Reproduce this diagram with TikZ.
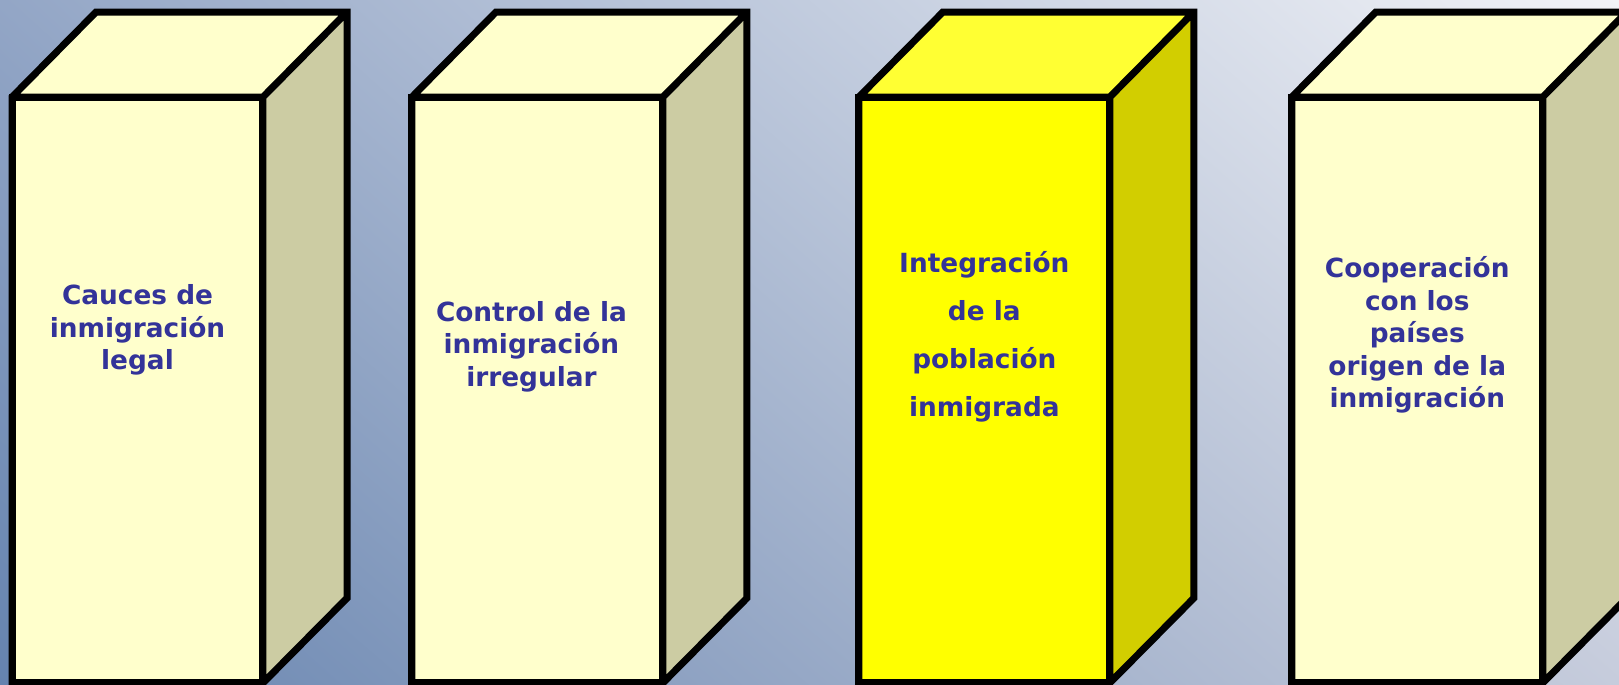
\documentclass[tikz,border=0pt]{standalone}
\usepackage{fontspec}
\setmainfont{DejaVu Sans}
\usetikzlibrary{positioning, shadings}
\definecolor{bgul}{HTML}{93A6C6}
\definecolor{bgur}{HTML}{F2F3F7}
\definecolor{bgll}{HTML}{6583AF}
\definecolor{bglr}{HTML}{C6CCDC}
\definecolor{paleface}{HTML}{FFFFCC}
\definecolor{paleside}{HTML}{CCCCA3}
\definecolor{goldface}{HTML}{FFFF00}
\definecolor{goldtop}{HTML}{FFFF33}
\definecolor{goldside}{HTML}{D2CE00}
\definecolor{pillarblue}{HTML}{333399}

\begin{document}
\begin{tikzpicture}[x=0.02cm, y=0.02cm, line width=4pt, line join=miter,
  pillar/.style={rectangle,draw,inner sep=0pt,outer sep=0pt,
    minimum width=5.02cm,minimum height=11.72cm},
  pillar text/.style={font=\bfseries\fontsize{15}{18.5}\selectfont,
    text=pillarblue,align=center}]

\useasboundingbox (0,0) rectangle (1619,685);
\clip (0,0) rectangle (1619,685);
\shade[upper left=bgul, upper right=bgur, lower left=bgll, lower right=bglr]
  (0,0) rectangle (1619,685);

\node[pillar, fill=paleface] (A) at (137.5,295) {};
\node[pillar, fill=paleface] (B) [right=2.98cm of A] {};
\node[pillar, fill=goldface] (C) [right=3.92cm of B] {};
\node[pillar, fill=paleface] (D) [right=3.64cm of C] {};

% tops and sides
\fill[paleface] (A.north west) -- ++(84,85) -- ++(251,0) -- (A.north east) -- cycle;
\fill[paleside] (A.north east) -- ++(84,85) -- ++(0,-586) -- (A.south east) -- cycle;
\fill[paleface] (B.north west) -- ++(84,85) -- ++(251,0) -- (B.north east) -- cycle;
\fill[paleside] (B.north east) -- ++(84,85) -- ++(0,-586) -- (B.south east) -- cycle;
\fill[goldtop] (C.north west) -- ++(84,85) -- ++(251,0) -- (C.north east) -- cycle;
\fill[goldside] (C.north east) -- ++(84,85) -- ++(0,-586) -- (C.south east) -- cycle;
\fill[paleface] (D.north west) -- ++(84,85) -- ++(251,0) -- (D.north east) -- cycle;
\fill[paleside] (D.north east) -- ++(84,85) -- ++(0,-586) -- (D.south east) -- cycle;

% outlines
\draw (A.south west) -- (A.north west) -- ++(84,85) -- ++(251,0) -- ++(0,-586) -- (A.south east) -- cycle
  (A.north west) -- (A.north east) -- (A.south east) (A.north east) -- ++(84,85);
\draw (B.south west) -- (B.north west) -- ++(84,85) -- ++(251,0) -- ++(0,-586) -- (B.south east) -- cycle
  (B.north west) -- (B.north east) -- (B.south east) (B.north east) -- ++(84,85);
\draw (C.south west) -- (C.north west) -- ++(84,85) -- ++(251,0) -- ++(0,-586) -- (C.south east) -- cycle
  (C.north west) -- (C.north east) -- (C.south east) (C.north east) -- ++(84,85);
\draw (D.south west) -- (D.north west) -- ++(84,85) -- ++(251,0) -- ++(0,-586) -- (D.south east) -- cycle
  (D.north west) -- (D.north east) -- (D.south east) (D.north east) -- ++(84,85);

\node[pillar text] (At) at ([yshift=1.2cm]A.center) {Cauces de\\inmigración\\legal};
\node[pillar text] (Bt) at ([xshift=-0.12cm,yshift=0.87cm]B.center) {Control de la\\inmigración\\irregular};
\node[pillar text, font=\bfseries\fontsize{15}{27.3}\selectfont] (Ct) at ([yshift=1.06cm]C.center)
  {Integración\\de la\\población\\inmigrada};
\node[pillar text] (Dt) at ([yshift=1.1cm]D.center) {Cooperación\\con los\\países\\origen de la\\inmigración};

\end{tikzpicture}
\end{document}
